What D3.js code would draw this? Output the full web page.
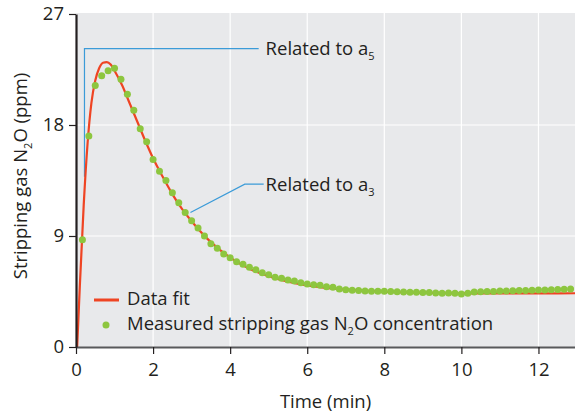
<!DOCTYPE html>
<html>
<head>
<meta charset="utf-8">
<script src="https://cdn.jsdelivr.net/npm/d3@7"></script>
<style>
  body { margin: 0; background: #fff; }
  text { font-family: "Open Sans", sans-serif; fill: #231f20; }
</style>
</head>
<body>
<div id="chart"></div>
<script>
// measured points, sampled every 10 s
const measuredTime = d3.range(1, 78).map(k => k / 6);
const measuredValue = [
  8.7, 17.1, 21.2, 22.0, 22.4, 22.6, 21.7, 20.5, 19.2, 17.7,
  16.65, 15.2, 14.25, 13.5, 12.5, 11.7, 10.9, 10.24, 9.65, 9.0,
  8.38, 8.0, 7.54, 7.24, 6.92, 6.71, 6.46, 6.27, 6.03, 5.86,
  5.65, 5.57, 5.43, 5.35, 5.21, 5.11, 5.05, 5.0, 4.89, 4.84,
  4.7, 4.65, 4.6, 4.58, 4.55, 4.53, 4.52, 4.52, 4.5, 4.47,
  4.46, 4.44, 4.43, 4.42, 4.41, 4.38, 4.36, 4.37, 4.35, 4.3,
  4.35, 4.46, 4.48, 4.51, 4.51, 4.54, 4.54, 4.56, 4.58, 4.58,
  4.6, 4.62, 4.62, 4.64, 4.66, 4.68, 4.7
];

// fitted curve
const fitTime = [0.03, 0.1, 0.2, 0.3, 0.4, 0.5, 0.6, 0.7, 0.8, 0.9, 1.0, 1.2, 1.4, 1.6, 1.8,
  2.0, 2.25, 2.5, 2.75, 3.0, 3.5, 4.0, 4.5, 5.0, 5.5, 6.0, 7.0, 8.0, 9.0, 10.0, 11.0, 12.0, 13.0];
const fitValue = [0, 5, 11.5, 16.5, 19.8, 21.6, 22.6, 23.05, 23.1, 22.9, 22.4, 21.2, 19.7, 18.2, 16.7,
  15.3, 13.8, 12.4, 11.2, 10.2, 8.5, 7.25, 6.35, 5.75, 5.3, 5.0, 4.65, 4.48, 4.4, 4.35, 4.34, 4.35, 4.36];

const xTicks = [0, 2, 4, 6, 8, 10, 12];
const yTicks = [0, 9, 18, 27];

const fs = "18.5px";

const margin = {top: 13, right: 0, bottom: 68, left: 76},
  width = 575 - margin.left - margin.right,
  height = 415 - margin.top - margin.bottom;

const svg = d3.select("#chart")
.append("svg")
  .attr("width", 575)
  .attr("height", 415)
.append("g")
  .attr("transform", `translate(${margin.left},${margin.top})`);

const x = d3.scaleLinear().domain([0, 13]).range([0, 501]);
const y = d3.scaleLinear().domain([0, 27]).range([height, 1]);

// plot background
svg.append("rect")
  .attr("x", 0).attr("y", 0)
  .attr("width", width).attr("height", height)
  .style("fill", "#e8e9eb");

// grid
svg.selectAll(".vgrid")
  .data(xTicks.slice(1))
  .enter().append("line")
    .attr("x1", d => x(d)).attr("x2", d => x(d))
    .attr("y1", 0).attr("y2", height)
    .style("stroke", "#fff").style("stroke-width", 1.2);
svg.selectAll(".hgrid")
  .data(yTicks.slice(1, 3))
  .enter().append("line")
    .attr("x1", 0).attr("x2", width)
    .attr("y1", d => y(d)).attr("y2", d => y(d))
    .style("stroke", "#fff").style("stroke-width", 1.2);

// annotation lines (behind the data)
const blue = "#3b9bd8";
svg.append("polyline")
  .attr("points", [[x(0.22), y(13.8)], [x(0.22), y(24.2)], [x(4.74), y(24.2)]].join(" "))
  .style("fill", "none").style("stroke", blue).style("stroke-width", 1.2);
svg.append("polyline")
  .attr("points", [[x(2.97), y(10.9)], [x(4.38), y(13.2)], [x(4.87), y(13.2)]].join(" "))
  .style("fill", "none").style("stroke", blue).style("stroke-width", 1.2);

// fit line
const line = d3.line()
  .x((d, i) => x(fitTime[i]))
  .y(d => y(d))
  .curve(d3.curveMonotoneX);
svg.append("path")
  .datum(fitValue)
  .attr("d", line)
  .style("fill", "none")
  .style("stroke", "#ef4423")
  .style("stroke-width", 2.2);

// measured dots
svg.selectAll(".dot")
  .data(measuredValue)
  .enter().append("circle")
    .attr("cx", (d, i) => x(measuredTime[i]))
    .attr("cy", d => y(d))
    .attr("r", 3.5)
    .style("fill", "#8dc63f");

// annotation text
function related(g, tx, ty, sub) {
  const t = g.append("text")
    .attr("x", tx).attr("y", ty)
    .attr("dy", "0.35em")
    .style("font-size", fs);
  t.append("tspan").text("Related to a");
  t.append("tspan").text(sub)
    .attr("dy", "5")
    .style("font-size", "11px");
}
related(svg, x(4.92), y(24.2), "5");
related(svg, x(4.92), y(13.2), "3");

// legend
svg.append("line")
  .attr("x1", 18).attr("x2", 43)
  .attr("y1", 287).attr("y2", 287)
  .style("stroke", "#ef4423").style("stroke-width", 3);
svg.append("text")
  .attr("x", 51).attr("y", 286).attr("dy", "0.35em")
  .style("font-size", fs)
  .text("Data fit");
svg.append("circle")
  .attr("cx", 30).attr("cy", 312).attr("r", 3.5)
  .style("fill", "#8dc63f");
const leg = svg.append("text")
  .attr("x", 51).attr("y", 311).attr("dy", "0.35em")
  .style("font-size", fs);
leg.append("tspan").text("Measured stripping gas N");
leg.append("tspan").text("2").attr("dy", 5).style("font-size", "11px");
leg.append("tspan").text("O concentration").attr("dy", -5);

// axes
const xAxis = svg.append("g")
  .attr("transform", `translate(0, ${height})`)
  .call(d3.axisBottom(x).tickValues(xTicks).tickSize(7).tickSizeOuter(0).tickPadding(9));
xAxis.select(".domain").style("stroke", "#58595b").style("stroke-width", 2);
xAxis.selectAll(".tick line").style("stroke", "#231f20").style("stroke-width", 1.2);
xAxis.selectAll(".tick text").style("font-size", fs).style("font-family", "Open Sans");

const yAxis = svg.append("g")
  .call(d3.axisLeft(y).tickValues(yTicks).tickSize(7).tickSizeOuter(0).tickPadding(5));
yAxis.select(".domain").style("stroke", "#231f20").style("stroke-width", 2.2);
yAxis.selectAll(".tick line").style("stroke", "#231f20").style("stroke-width", 1.2);
yAxis.selectAll(".tick text").style("font-size", fs).style("font-family", "Open Sans");

// axis titles
svg.append("text")
  .attr("x", width / 2)
  .attr("y", height + 61)
  .attr("text-anchor", "middle")
  .style("font-size", fs)
  .text("Time (min)");

const yt = svg.append("text")
  .attr("transform", `translate(-49, ${height / 2 - 4}) rotate(-90)`)
  .attr("text-anchor", "middle")
  .style("font-size", fs);
yt.append("tspan").text("Stripping gas N");
yt.append("tspan").text("2").attr("dy", 5).style("font-size", "11px");
yt.append("tspan").text("O (ppm)").attr("dy", -5);
</script>
</body>
</html>
